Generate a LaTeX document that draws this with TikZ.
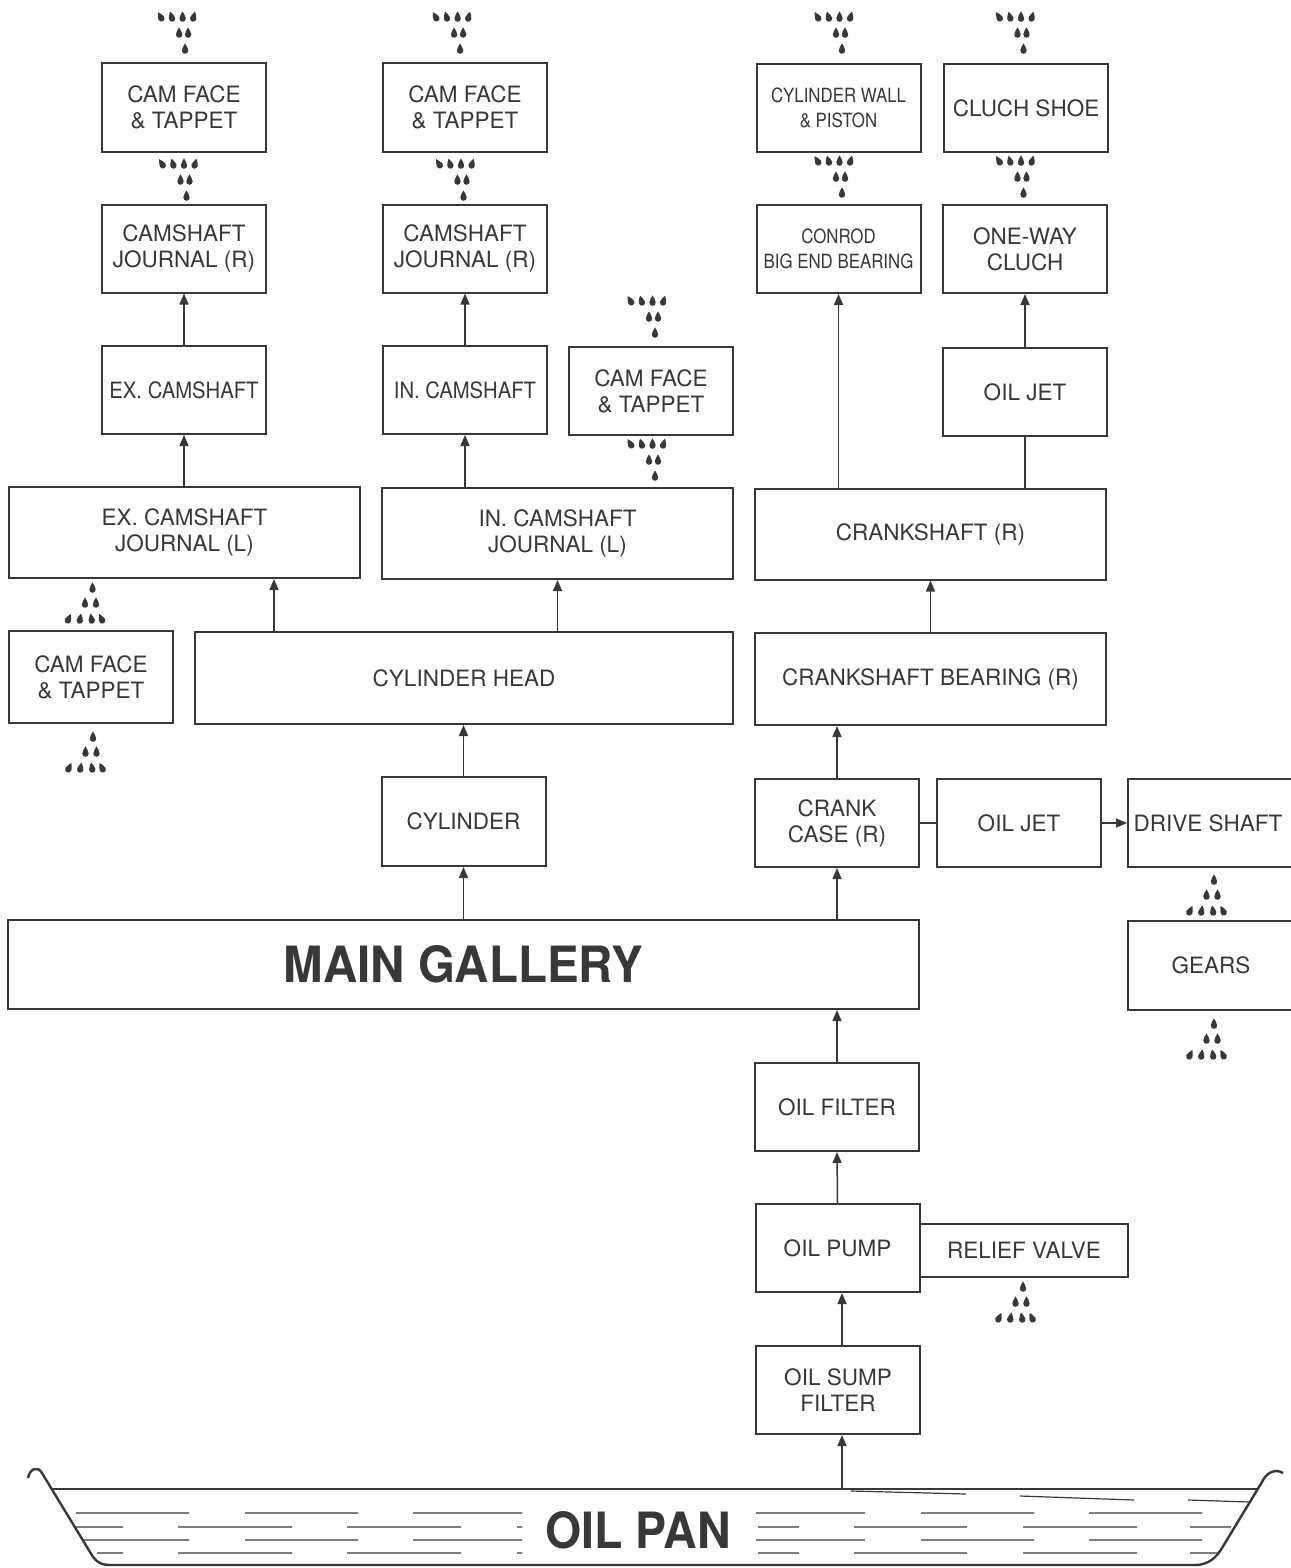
\documentclass[tikz,border=0pt]{standalone}
\usepackage{fontspec}
\usepackage{graphicx}
\setmainfont{TeX Gyre Heros}
\usetikzlibrary{arrows.meta}
\definecolor{ink}{HTML}{383838}
\newcommand{\narrow}[2][0.9]{\scalebox{#1}[1]{#2}}

\begin{document}
\begin{tikzpicture}[x=0.5pt, y=-0.5pt,
    blk/.style={draw=ink, line width=1pt, inner sep=0pt, align=center, text=ink,
        font=\fontsize{11.25}{13}\selectfont},
    sm/.style={blk, minimum width=82pt, minimum height=44pt},
    wd/.style={blk, minimum width=175.5pt, minimum height=45.5pt},
    fine/.style={font=\fontsize{9.8}{12.5}\selectfont},
    big/.style={text=ink, font=\fontsize{25}{30}\selectfont\bfseries},
    flow/.style={draw=ink, line width=0.75pt, -{Triangle[length=5.5pt, width=4.5pt]}},
    link/.style={draw=ink, line width=0.75pt},
    oildrop/.pic={\fill[ink, scale=1.4] (0,-4) .. controls (0.6,-2.5) and (2.3,-0.8) .. (2.3,1)
        .. controls (2.3,2.6) and (1.2,3.4) .. (0,3.4) .. controls (-1.2,3.4) and (-2.3,2.6) .. (-2.3,1)
        .. controls (-2.3,-0.8) and (-0.6,-2.5) .. (0,-4) -- cycle;},
    dripdown/.pic={
        \pic[rotate=30] at (-23,-16) {oildrop};
        \pic[rotate=15] at (-12,-16) {oildrop};
        \pic at (-1,-16) {oildrop};
        \pic[rotate=-15] at (10,-16) {oildrop};
        \pic at (-4.5,0) {oildrop};
        \pic at (4.5,0) {oildrop};
        \pic at (1.5,16) {oildrop};},
    dripup/.pic={
        \pic at (2,-15) {oildrop};
        \pic at (-5.5,0) {oildrop};
        \pic at (5.5,0) {oildrop};
        \pic[rotate=-25] at (-22,16) {oildrop};
        \pic[rotate=-10] at (-10.5,16) {oildrop};
        \pic[rotate=10] at (1,16) {oildrop};
        \pic[rotate=25] at (11,16) {oildrop};}]
    \useasboundingbox (0,0) rectangle (1290,1568);

    % exhaust side
    \node[sm] (camface1) at (184,107.5) {CAM FACE\\\& TAPPET};
    \node[sm] (journalR1) at (184,248.5) {CAMSHAFT\\JOURNAL (R)};
    \node[sm] (exCam) at (184,390) {\narrow{EX. CAMSHAFT}};
    \node[wd] (exJournalL) at (184.5,532.5) {EX. CAMSHAFT\\JOURNAL (L)};
    \node[sm, minimum height=46pt] (camface4) at (91,677) {CAM FACE\\\& TAPPET};

    % intake side
    \node[sm] (camface2) at (465,107.5) {CAM FACE\\\& TAPPET};
    \node[sm] (journalR2) at (465,248.5) {CAMSHAFT\\JOURNAL (R)};
    \node[sm] (inCam) at (465,390) {\narrow{IN. CAMSHAFT}};
    \node[sm] (camface3) at (651,391) {CAM FACE\\\& TAPPET};
    \node[wd] (inJournalL) at (557.5,533.5) {IN. CAMSHAFT\\JOURNAL (L)};

    \node[blk, minimum width=269pt, minimum height=46pt] (cylHead) at (464,678) {CYLINDER HEAD};
    \node[sm, minimum height=44.5pt] (cylinder) at (463.5,821.5) {CYLINDER};
    \node[blk, big, minimum width=455.5pt, minimum height=44.5pt] (gallery) at (463.5,964.5)
        {\narrow[0.95]{MAIN GALLERY}};

    % crank side
    \node[sm, fine] (cylWall) at (838.5,108) {\narrow[0.86]{CYLINDER WALL}\\\narrow[0.86]{\& PISTON}};
    \node[sm] (cluchShoe) at (1026,108) {CLUCH SHOE};
    \node[sm, fine] (conrod) at (838.5,249) {\narrow[0.86]{CONROD}\\\narrow[0.86]{BIG END BEARING}};
    \node[sm] (oneWay) at (1025,249) {ONE-WAY\\CLUCH};
    \node[sm] (jet1) at (1025,392) {OIL JET};
    \node[wd] (crankR) at (930.5,534) {CRANKSHAFT (R)};
    \node[wd, minimum height=46pt] (crankBearing) at (930.5,679) {CRANKSHAFT BEARING (R)};
    \node[sm] (crankCase) at (837,823) {CRANK\\CASE (R)};
    \node[sm] (jet2) at (1019,823) {OIL JET};
    \node[sm, minimum width=83pt] (driveShaft) at (1211,823) {DRIVE SHAFT\hspace*{3pt}};
    \node[sm, minimum width=83pt, minimum height=44.5pt] (gears) at (1211,965.5) {GEARS};

    % supply
    \node[sm] (oilFilter) at (837,1107) {OIL FILTER};
    \node[sm] (oilPump) at (837.5,1248) {OIL PUMP};
    \node[blk, minimum width=104pt, minimum height=26.5pt] (relief) at (1024,1250.5) {RELIEF VALVE};
    \node[sm] (sumpFilter) at (838,1390) {OIL SUMP\\FILTER};

    % oil pan
    \draw[ink, line width=1.2pt] (28,1478) .. controls (30,1468) and (38,1466) .. (42,1473)
        -- (90,1552) .. controls (95,1561) and (100,1565) .. (110,1565) -- (1195,1565)
        .. controls (1208,1565) and (1216,1558) .. (1222,1548) -- (1262,1482)
        .. controls (1266,1473) and (1275,1468) .. (1283,1473);
    \draw[ink, line width=1.2pt] (53,1489) -- (1257,1489);
    \coordinate (panTop) at (842,1489);
    \node[big] (panLabel) at (638,1530) {\narrow[0.93]{OIL PAN}};
    \draw[ink, line width=0.6pt]
        (76,1513) -- (189,1513) (245,1513) -- (358,1513) (413,1513) -- (522,1513)
        (76,1527) -- (123,1527) (178,1527) -- (292,1527) (347,1527) -- (461,1527) (517,1527) -- (522,1527)
        (82,1540) -- (189,1540) (245,1540) -- (358,1540) (413,1540) -- (522,1540)
        (97,1553) -- (123,1553) (178,1553) -- (292,1553) (347,1553) -- (461,1553) (517,1553) -- (522,1553)
        (756,1513) -- (865,1513) (921,1513) -- (1034,1513) (1089,1513) -- (1202,1513)
        (758,1527) -- (799,1527) (854,1527) -- (967,1527) (1023,1527) -- (1137,1527) (1190,1527) -- (1231,1527)
        (756,1540) -- (865,1540) (921,1540) -- (1034,1540) (1089,1540) -- (1202,1540)
        (758,1553) -- (799,1553) (854,1553) -- (967,1553) (1023,1553) -- (1137,1553) (1190,1553) -- (1218,1553)
        (851,1491) -- (966,1494) (1020,1496) -- (1134,1500) (1188,1500) -- (1250,1502);

    % drips
    \pic at (183.6,33) {dripdown};
    \pic at (185,180) {dripdown};
    \pic at (458.6,33) {dripdown};
    \pic at (462,180) {dripdown};
    \pic at (653.5,317) {dripdown};
    \pic at (653.5,460) {dripdown};
    \pic at (840.5,33) {dripdown};
    \pic at (840.5,177) {dripdown};
    \pic at (1022,33) {dripdown};
    \pic at (1022,177) {dripdown};
    \pic at (90.5,603) {dripup};
    \pic at (91,752) {dripup};
    \pic at (1212,895) {dripup};
    \pic at (1212,1039) {dripup};
    \pic at (1021,1302) {dripup};

    % connectors
    \coordinate (exFeed) at (274,600);
    \draw[flow] (panTop) -- (sumpFilter.south -| panTop);
    \draw[flow] (sumpFilter.north -| panTop) -- (oilPump.south -| panTop);
    \draw[flow] (oilPump.north) -- (oilFilter.south);
    \draw[flow] (oilFilter.north) -- (gallery.south -| oilFilter);
    \draw[flow] (gallery.north -| crankCase) -- (crankCase.south);
    \draw[flow] (crankCase.north) -- (crankBearing.south -| crankCase);
    \draw[flow] (crankBearing.north) -- (crankR.south);
    \draw[flow] (crankR.north -| conrod) -- (conrod.south);
    \draw[link] (crankR.north -| jet1) -- (jet1.south);
    \draw[flow] (jet1.north) -- (oneWay.south);
    \draw[link] (crankCase.east) -- (jet2.west);
    \draw[flow] (jet2.east) -- (driveShaft.west);
    \draw[flow] (gallery.north -| cylinder) -- (cylinder.south);
    \draw[flow] (cylinder.north) -- (cylHead.south -| cylinder);
    \draw[flow] (cylHead.north -| exFeed) -- (exJournalL.south -| exFeed);
    \draw[flow] (cylHead.north -| inJournalL) -- (inJournalL.south);
    \draw[flow] (exJournalL.north -| exCam) -- (exCam.south);
    \draw[flow] (exCam.north) -- (journalR1.south);
    \draw[flow] (inJournalL.north -| inCam) -- (inCam.south);
    \draw[flow] (inCam.north) -- (journalR2.south);
\end{tikzpicture}
\end{document}
